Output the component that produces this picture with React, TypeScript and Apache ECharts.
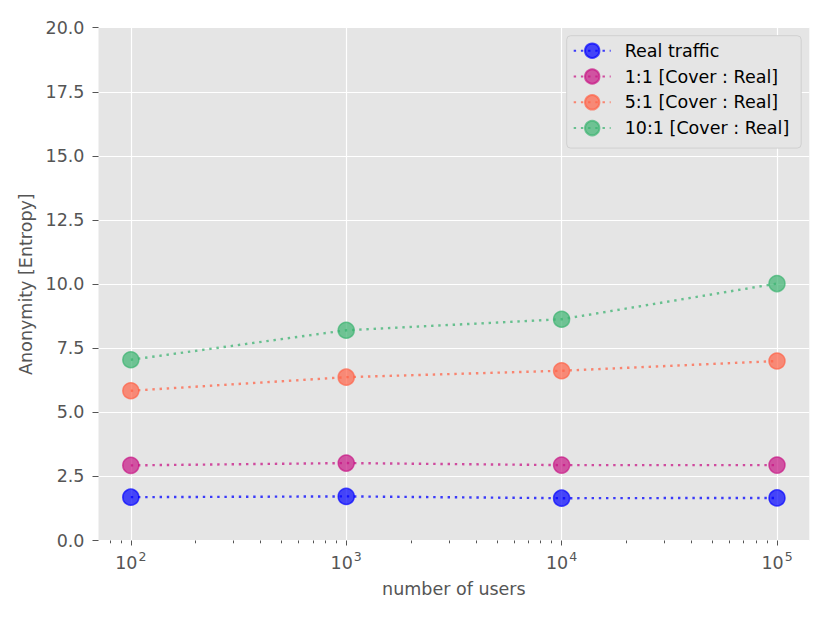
import React, { useEffect, useRef } from "react";
import * as echarts from "echarts";

const users = [100, 1000, 10000, 100000];
const seriesNames = [
  "Real traffic",
  "1:1 [Cover : Real]",
  "5:1 [Cover : Real]",
  "10:1 [Cover : Real]",
];
const realTraffic = [1.69, 1.72, 1.65, 1.66];
const cover1 = [2.93, 3.02, 2.94, 2.94];
const cover5 = [5.84, 6.37, 6.62, 7.0];
const cover10 = [7.05, 8.2, 8.63, 10.02];
const seriesValues = [realTraffic, cover1, cover5, cover10];
const colors = ["0,0,255", "199,21,133", "255,99,71", "60,179,113"];

const majorTicks = [100, 1000, 10000, 100000];
const minorTicks = [
  80, 90,
  200, 300, 400, 500, 600, 700, 800, 900,
  2000, 3000, 4000, 5000, 6000, 7000, 8000, 9000,
  20000, 30000, 40000, 50000, 60000, 70000, 80000, 90000,
];
const xMin = Math.pow(10, 1.85);
const xMax = Math.pow(10, 5.15);

const FONT = "DejaVu Sans";
const GREY = "#555555";

export default function App() {
  const ref = useRef<HTMLDivElement>(null);
  useEffect(() => {
    if (!ref.current) return;
    const chart = echarts.init(ref.current, undefined, { renderer: "svg" });
    const series = seriesNames.map((name, i) => ({
      name,
      type: "line",
      data: users.map((u, j) => [u, seriesValues[i][j]]),
      symbol: "circle",
      symbolSize: 16,
      lineStyle: {
        color: `rgba(${colors[i]},0.75)`,
        width: 2.4,
        type: [2.4, 4.8],
      },
      itemStyle: {
        color: `rgba(${colors[i]},0.7)`,
        borderColor: `rgba(${colors[i]},0.7)`,
        borderWidth: 1.5,
      },
      emphasis: { disabled: true },
    }));
    chart.setOption({
      animation: false,
      textStyle: { fontFamily: FONT },
      grid: {
        left: 98.5,
        right: 20.7,
        top: 27.7,
        bottom: 82.5,
        show: true,
        backgroundColor: "#e5e5e5",
        borderWidth: 0,
      },
      legend: {
        orient: "vertical",
        left: 566.7,
        top: 35.7,
        backgroundColor: "#e5e5e5",
        borderColor: "#d0d0d0",
        borderWidth: 1,
        borderRadius: 4,
        padding: [6, 12, 11, 6],
        itemWidth: 37,
        itemHeight: 18,
        itemGap: 7.8,
        textStyle: {
          fontFamily: FONT,
          fontSize: 17.5,
          color: "#000000",
          padding: [0, 0, 0, 9],
        },
        data: seriesNames,
      },
      xAxis: [
        {
          type: "log",
          logBase: 10,
          min: xMin,
          max: xMax,
          name: "number of users",
          nameLocation: "middle",
          nameGap: 39,
          nameTextStyle: { fontFamily: FONT, fontSize: 17.5, color: GREY },
          axisLine: { show: false },
          axisTick: {
            show: true,
            length: 5,
            lineStyle: { color: GREY, width: 1 },
            customValues: majorTicks,
          },
          axisLabel: {
            customValues: majorTicks,
            margin: 9,
            color: GREY,
            fontFamily: FONT,
            formatter: (v: number) => `{b|10}{s|${Math.round(Math.log10(v))}}`,
            rich: {
              b: { fontSize: 17.5, color: GREY, fontFamily: FONT, lineHeight: 22, verticalAlign: "bottom" },
              s: { fontSize: 12.5, color: GREY, fontFamily: FONT, lineHeight: 22, verticalAlign: "top", padding: [0, 0, 0, 1] },
            },
          },
          splitLine: { show: true, lineStyle: { color: "#ffffff", width: 1.2 } },
        },
        {
          type: "log",
          logBase: 10,
          min: xMin,
          max: xMax,
          position: "bottom",
          axisLine: { show: false },
          axisLabel: { show: false },
          splitLine: { show: false },
          axisTick: {
            show: true,
            length: 2.8,
            lineStyle: { color: GREY, width: 1 },
            customValues: minorTicks,
          },
        },
      ],
      yAxis: {
        type: "value",
        min: 0,
        max: 20,
        interval: 2.5,
        name: "Anonymity [Entropy]",
        nameLocation: "middle",
        nameGap: 61,
        nameTextStyle: { fontFamily: FONT, fontSize: 17.5, color: GREY },
        axisLine: { show: false },
        axisTick: { show: true, length: 6, lineStyle: { color: GREY, width: 1 } },
        axisLabel: {
          margin: 14,
          color: GREY,
          fontFamily: FONT,
          fontSize: 17.5,
          formatter: (v: number) => v.toFixed(1),
        },
        splitLine: { show: true, lineStyle: { color: "#ffffff", width: 1.2 } },
      },
      series,
    });
    return () => chart.dispose();
  }, []);
  return (
    <div
      ref={ref}
      style={{ position: "absolute", left: 0, top: 0, width: 830, height: 623, background: "#ffffff" }}
    />
  );
}
